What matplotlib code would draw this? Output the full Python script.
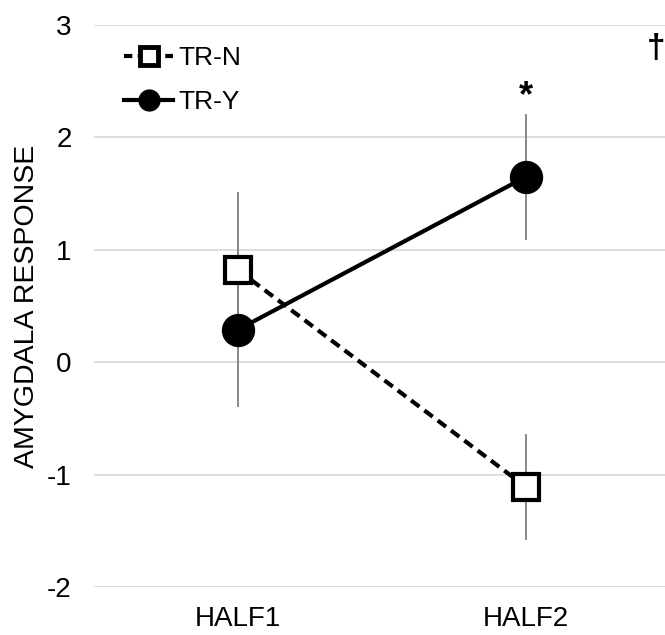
import matplotlib
matplotlib.use("Agg")
import matplotlib.pyplot as plt
from matplotlib.lines import Line2D

plt.rcParams["font.family"] = ["Liberation Sans", "DejaVu Sans"]
plt.rcParams["axes.unicode_minus"] = False

halves = ["HALF1", "HALF2"]
tr_n = [0.82, -1.11]
tr_n_err = [0.69, 0.47]
tr_y = [0.29, 1.65]
tr_y_err = [0.69, 0.56]
y_ticks = [-2, -1, 0, 1, 2, 3]

fig = plt.figure(figsize=(6.65, 6.35), dpi=100)
ax = fig.add_axes([0.1414, 0.0756, 0.8661, 0.885])

x = list(range(len(halves)))
ax.errorbar(x, tr_n, yerr=tr_n_err, fmt="none", ecolor="#808080", elinewidth=1.3, zorder=2)
ax.errorbar(x, tr_y, yerr=tr_y_err, fmt="none", ecolor="#808080", elinewidth=1.3, zorder=2)
ax.plot(x, tr_n, color="black", lw=3, ls=(0, (2.5, 1.5)), marker="s", ms=19,
        mfc="white", mec="black", mew=3, zorder=3)
ax.plot(x, tr_y, color="black", lw=3, ls="-", marker="o", ms=23,
        mfc="black", mec="black", zorder=4)

ax.text(1, 2.36, "*", ha="center", va="center", fontsize=26, fontweight="bold")
ax.text(1.452, 2.79, "†", ha="center", va="center", fontsize=24, fontweight="bold")

ax.set_xlim(-0.5, 1.5)
ax.set_ylim(-2, 3)
ax.set_yticks(y_ticks)
ax.set_xticks(x)
ax.set_xticklabels(halves)
ax.tick_params(axis="both", length=0, labelsize=20, colors="black")
ax.tick_params(axis="y", pad=16)
ax.tick_params(axis="x", pad=14)
ax.grid(axis="y", color="#d9d9d9", lw=1.3)
ax.set_axisbelow(True)
for s in ax.spines.values():
    s.set_visible(False)
ax.set_ylabel("AMYGDALA RESPONSE", fontsize=20.5, labelpad=5)

handles = [
    Line2D([], [], color="black", lw=3, ls=(0, (2, 1.3)), marker="s", ms=13, mfc="white", mec="black", mew=3.5),
    Line2D([], [], color="black", lw=3, ls="-", marker="o", ms=15, mfc="black"),
]
ax.legend(handles, ["TR-N", "TR-Y"], loc="upper left", bbox_to_anchor=(0.011, 1.005),
          frameon=False, fontsize=19, handlelength=1.85, handletextpad=0.2, labelspacing=0.75)

fig.savefig("out.png", dpi=100)
plt.close(fig)
